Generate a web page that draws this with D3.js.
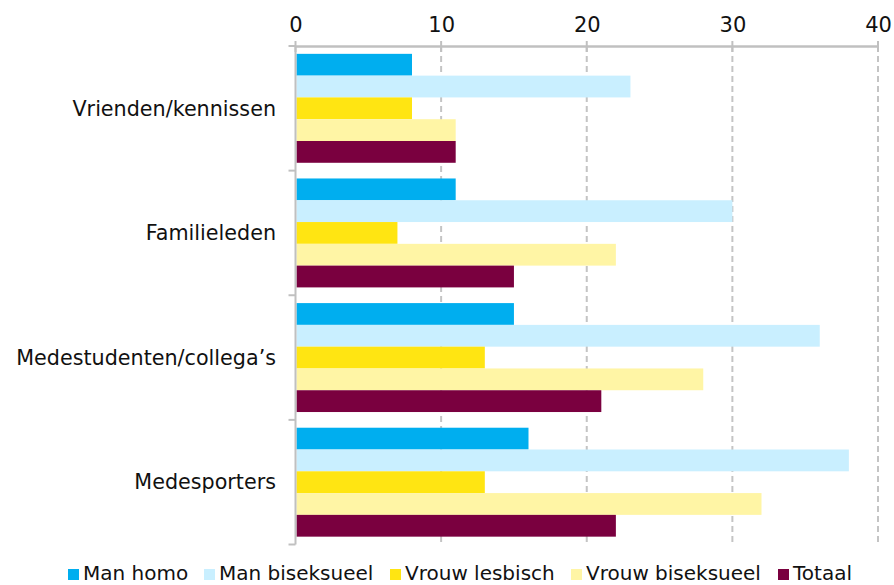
<!DOCTYPE html>
<html><head><meta charset="utf-8">
<script src="https://cdn.jsdelivr.net/npm/d3@7"></script>
<style>body{margin:0;background:#fff}svg{display:block}text{font-family:"DejaVu Sans",sans-serif;fill:#111}</style>
</head><body><svg id="c" width="894" height="585"></svg>
<script>
const categories = ["Vrienden/kennissen","Familieleden","Medestudenten/collega\u2019s","Medesporters"];
const seriesNames = ["Man homo","Man biseksueel","Vrouw lesbisch","Vrouw biseksueel","Totaal"];
const manHomo = [8,11,15,16];
const manBi = [23,30,36,38];
const vrouwLes = [8,7,13,13];
const vrouwBi = [11,22,28,32];
const totaal = [11,15,21,22];
const xTicks = [0,10,20,30,40];
const colors = ["#00AEEF","#C9EFFF","#FFE512","#FFF5A5","#7A003F"];
const seriesValues = [manHomo, manBi, vrouwLes, vrouwBi, totaal];

const svg = d3.select("#c");
const x = d3.scaleLinear().domain([0,40]).range([295.5,878]);
const y = d3.scaleBand().domain(categories).range([46,544.5]).paddingInner(0).paddingOuter(0);
const inner = d3.scaleBand().domain(seriesNames).range([0,y.bandwidth()]).paddingOuter(0.36).paddingInner(0);

// grid
svg.append("g").selectAll("line").data(xTicks.slice(1)).join("line")
  .attr("x1",d=>x(d)).attr("x2",d=>x(d)).attr("y1",46).attr("y2",544.5)
  .attr("stroke","#c4c4c4").attr("stroke-width",2).attr("stroke-dasharray","6,4");

// bars
const g = svg.append("g");
categories.forEach((c,ci)=>{
  seriesNames.forEach((s,si)=>{
    g.append("rect").attr("x",x(0)+1).attr("y",y(c)+inner(s))
     .attr("width",x(seriesValues[si][ci])-x(0)-1).attr("height",inner.bandwidth())
     .attr("fill",colors[si]);
  });
});

// top axis
const ax = svg.append("g").attr("transform","translate(0,46)")
  .call(d3.axisTop(x).tickValues(xTicks).tickSize(0).tickPadding(14));
ax.select(".domain").attr("stroke","#c0c0c0").attr("stroke-width",2.5);
ax.selectAll("text").style("font-size","21px").attr("fill","#111").attr("font-family","DejaVu Sans");
svg.append("g").selectAll("line").data(xTicks).join("line")
  .attr("x1",d=>x(d)).attr("x2",d=>x(d)).attr("y1",41).attr("y2",52)
  .attr("stroke","#c0c0c0").attr("stroke-width",2);

// left axis
svg.append("line").attr("x1",x(0)).attr("x2",x(0)).attr("y1",46).attr("y2",544.5)
  .attr("stroke","#c0c0c0").attr("stroke-width",2);
const bounds = categories.map(c=>y(c)).concat([y.range()[1]]);
svg.append("g").selectAll("line").data(bounds).join("line")
  .attr("x1",x(0)-7).attr("x2",x(0)).attr("y1",d=>d).attr("y2",d=>d)
  .attr("stroke","#c0c0c0").attr("stroke-width",2);
svg.append("g").selectAll("text").data(categories).join("text")
  .attr("x",276).attr("y",d=>y(d)+y.bandwidth()/2).attr("dy","0.35em")
  .attr("text-anchor","end").style("font-size","20.7px").text(d=>d);

// legend
const legX = [68,204,390,571,778];
const lg = svg.append("g");
seriesNames.forEach((s,i)=>{
  lg.append("rect").attr("x",legX[i]).attr("y",569).attr("width",11).attr("height",11).attr("fill",colors[i]);
  lg.append("text").attr("x",legX[i]+15).attr("y",579.5).style("font-size","20px").text(s);
});
</script></body></html>
